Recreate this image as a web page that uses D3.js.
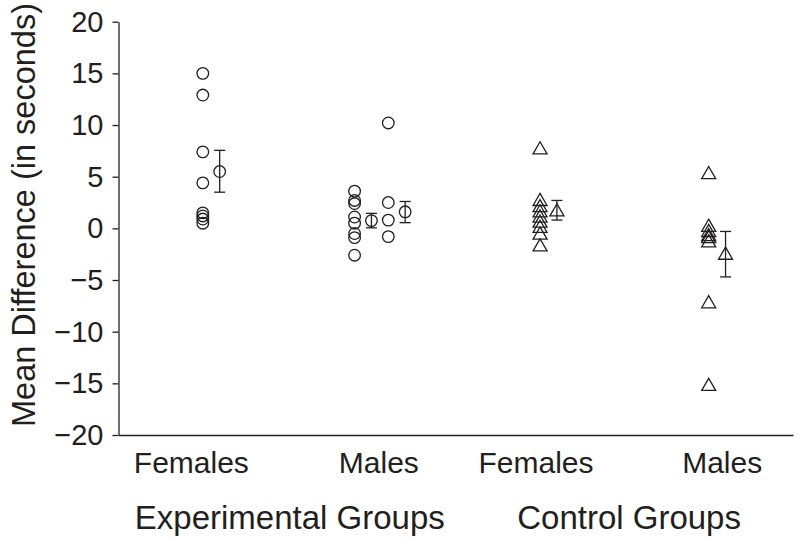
<!DOCTYPE html>
<html><head><meta charset="utf-8">
<script src="https://cdn.jsdelivr.net/npm/d3@7"></script>
<style>body{margin:0;background:#fff;} text{font-family:"Liberation Sans",Arial,sans-serif;fill:#231f20;}</style>
</head><body><svg id="c" width="800" height="540"></svg>
<script>
// Column positions on a 0-100 horizontal scale
const expFemales = [15.0, 12.9, 7.4, 4.4, 1.5, 1.2, 0.9, 0.5];
const expMalesA  = [3.6, 2.7, 2.4, 1.1, 0.5, -0.5, -0.9, -2.6];
const expMalesB  = [10.2, 2.5, 0.8, -0.8];
const ctlFemales = [7.7, 2.7, 2.1, 1.6, 1.1, 0.6, 0.1, -0.55, -1.7];
const ctlMales   = [5.3, 0.2, -0.3, -0.7, -0.9, -1.3, -7.2, -15.2];

const seriesCols = [
  {pos: 12.5, shape: "circle",   values: expFemales},
  {pos: 35,   shape: "circle",   values: expMalesA},
  {pos: 40,   shape: "circle",   values: expMalesB},
  {pos: 62.5, shape: "triangle", values: ctlFemales},
  {pos: 87.5, shape: "triangle", values: ctlMales}
];
const meanPos   = [15, 37.5, 42.5, 65, 90];
const meanVals  = [5.5, 0.75, 1.6, 1.7, -2.5];
const meanLow   = [3.5, 0.05, 0.55, 0.8, -4.7];
const meanHigh  = [7.55, 1.45, 2.6, 2.7, -0.3];
const meanShape = ["circle", "circle", "circle", "triangle", "triangle"];

const catLabels = ["Females", "Males", "Females", "Males"];
const catPos    = [10.8, 38.6, 61.9, 89.5];
const groupLabels = ["Experimental Groups", "Control Groups"];
const groupPos    = [25.4, 75.7];
const yTicks = [20, 15, 10, 5, 0, -5, -10, -15, -20];

const svg = d3.select("#c");
const ink = "#231f20";
const x = d3.scaleLinear().domain([0, 100]).range([118.5, 793]);
const y = d3.scaleLinear().domain([-20, 20]).range([435, 21.7]);

// Axes
const yAx = svg.append("g").attr("transform", `translate(${x(0)},0)`)
  .call(d3.axisLeft(y).tickValues(yTicks).tickSize(6).tickSizeOuter(0).tickPadding(9)
    .tickFormat(d => d < 0 ? "\u2212" + Math.abs(d) : d));
yAx.selectAll("path,line").attr("stroke", ink).attr("stroke-width", 1.3);
yAx.selectAll("text").style("font-size", "29px").attr("dy", "0.33em");

const xAx = svg.append("g").attr("transform", `translate(0,${y(-20)})`)
  .call(d3.axisBottom(x).tickValues([]).tickSizeOuter(0));
xAx.selectAll("path").attr("stroke", ink).attr("stroke-width", 1.3);

// Labels
svg.append("text").attr("transform", `translate(35,215) rotate(-90)`)
  .attr("text-anchor", "middle").style("font-size", "32.5px").text("Mean Difference (in seconds)");
svg.selectAll(".cat").data(catLabels).join("text").attr("class", "cat")
  .attr("x", (d, i) => x(catPos[i])).attr("y", 473).attr("text-anchor", "middle")
  .style("font-size", "30px").text(d => d);
svg.selectAll(".grp").data(groupLabels).join("text").attr("class", "grp")
  .attr("x", (d, i) => x(groupPos[i])).attr("y", 529).attr("text-anchor", "middle")
  .style("font-size", "33px").text(d => d);

const tri = d3.symbol().type(d3.symbolTriangle).size(85);
function marker(g, shape, cx, cy) {
  if (shape === "circle") {
    g.append("circle").attr("cx", cx).attr("cy", cy).attr("r", 5.8)
      .attr("fill", "none").attr("stroke", ink).attr("stroke-width", 1.3);
  } else {
    g.append("path").attr("d", tri).attr("transform", `translate(${cx},${cy + 1})`)
      .attr("fill", "none").attr("stroke", ink).attr("stroke-width", 1.3);
  }
}

const pts = svg.append("g");
seriesCols.forEach(s => s.values.forEach(v => marker(pts, s.shape, x(s.pos), y(v))));

const m = svg.append("g");
meanPos.forEach((p, i) => {
  const cx = x(p);
  m.append("line").attr("x1", cx).attr("x2", cx).attr("y1", y(meanHigh[i])).attr("y2", y(meanLow[i]))
    .attr("stroke", ink).attr("stroke-width", 1.3);
  [meanHigh[i], meanLow[i]].forEach(v => m.append("line").attr("x1", cx - 5.5).attr("x2", cx + 5.5)
    .attr("y1", y(v)).attr("y2", y(v)).attr("stroke", ink).attr("stroke-width", 1.3));
  marker(m, meanShape[i], cx, y(meanVals[i]));
});
</script></body></html>
